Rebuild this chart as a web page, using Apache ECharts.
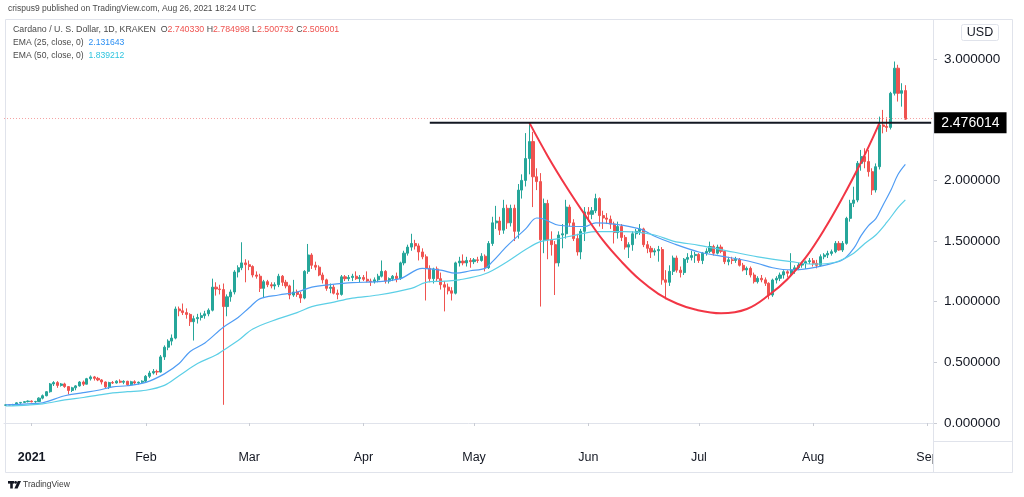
<!DOCTYPE html>
<html>
<head>
<meta charset="utf-8">
<script src="https://cdn.jsdelivr.net/npm/echarts@6/dist/echarts.min.js"></script>
<style>html,body{margin:0;padding:0;background:#fff}#c{width:1024px;height:497px}</style>
</head>
<body>
<div id="c"></div>
<script>
// ---- categories (daily, Dec 25 2020 .. Sep 2 2021) ----
const firstDay = [2020, 11, 25];
const dayCount = 252;
const monthNames = ['2021','Feb','Mar','Apr','May','Jun','Jul','Aug','Sep','Oct','Nov','Dec'];
const priceTicks = [0, 0.5, 1, 1.5, 2, 3];

// ---- candles: [open, high, low, close] ----
const dec2020 = [[0.147,0.152,0.142,0.149],[0.149,0.153,0.145,0.148],[0.148,0.158,0.145,0.150],[0.150,0.170,0.149,0.166],[0.166,0.172,0.158,0.170],[0.170,0.181,0.165,0.176],[0.176,0.186,0.170,0.181]];
const jan = [[0.181,0.186,0.170,0.175],[0.175,0.183,0.166,0.177],[0.177,0.212,0.175,0.205],[0.205,0.235,0.195,0.225],[0.225,0.262,0.220,0.258],[0.258,0.330,0.250,0.322],[0.322,0.345,0.305,0.333],[0.333,0.345,0.290,0.310],[0.310,0.330,0.300,0.322],[0.322,0.332,0.290,0.300],[0.300,0.304,0.235,0.268],[0.268,0.298,0.255,0.290],[0.290,0.312,0.270,0.306],[0.306,0.345,0.300,0.338],[0.338,0.350,0.305,0.320],[0.320,0.372,0.318,0.365],[0.365,0.392,0.350,0.380],[0.380,0.388,0.350,0.368],[0.368,0.380,0.345,0.355],[0.355,0.362,0.318,0.338],[0.338,0.342,0.285,0.298],[0.298,0.340,0.280,0.333],[0.333,0.346,0.322,0.330],[0.330,0.352,0.325,0.345],[0.345,0.360,0.328,0.336],[0.336,0.352,0.320,0.344],[0.344,0.348,0.305,0.315],[0.315,0.348,0.310,0.340],[0.340,0.352,0.318,0.330],[0.330,0.342,0.318,0.336],[0.336,0.352,0.325,0.345]];
const feb = [[0.345,0.395,0.335,0.385],[0.385,0.430,0.370,0.412],[0.412,0.445,0.400,0.425],[0.425,0.440,0.395,0.420],[0.420,0.560,0.415,0.545],[0.545,0.640,0.520,0.625],[0.625,0.690,0.600,0.675],[0.675,0.730,0.640,0.700],[0.700,0.960,0.690,0.940],[0.940,0.960,0.880,0.925],[0.925,0.985,0.890,0.910],[0.910,0.945,0.860,0.895],[0.895,0.905,0.800,0.835],[0.835,0.885,0.680,0.860],[0.860,0.900,0.820,0.870],[0.870,0.910,0.845,0.885],[0.885,0.925,0.860,0.900],[0.900,0.945,0.880,0.930],[0.930,1.190,0.920,1.120],[1.120,1.160,1.050,1.105],[1.105,1.140,1.060,1.100],[1.100,1.150,0.150,0.960],[0.960,1.060,0.880,1.040],[1.040,1.100,1.000,1.080],[1.080,1.260,1.060,1.245],[1.245,1.300,1.200,1.280],[1.280,1.490,1.260,1.320],[1.320,1.350,1.160,1.305]];
const mar = [[1.305,1.340,1.260,1.290],[1.290,1.300,1.200,1.220],[1.220,1.250,1.190,1.210],[1.210,1.230,1.080,1.110],[1.110,1.180,1.030,1.165],[1.165,1.180,1.120,1.140],[1.140,1.160,1.110,1.130],[1.130,1.160,1.100,1.140],[1.140,1.230,1.120,1.210],[1.210,1.220,1.130,1.160],[1.160,1.180,1.110,1.130],[1.130,1.140,1.020,1.055],[1.055,1.180,1.040,1.080],[1.080,1.100,1.040,1.060],[1.060,1.080,0.990,1.030],[1.030,1.260,1.020,1.250],[1.250,1.476,1.230,1.385],[1.385,1.400,1.270,1.300],[1.300,1.330,1.260,1.285],[1.285,1.300,1.210,1.220],[1.220,1.240,1.150,1.180],[1.180,1.190,1.090,1.110],[1.110,1.150,1.070,1.120],[1.120,1.140,1.060,1.070],[1.070,1.100,1.020,1.060],[1.060,1.220,1.050,1.205],[1.205,1.220,1.170,1.190],[1.190,1.220,1.170,1.200],[1.200,1.230,1.170,1.210],[1.210,1.250,1.180,1.190],[1.190,1.220,1.160,1.200]];
const apr = [[1.200,1.220,1.170,1.185],[1.185,1.250,1.160,1.170],[1.170,1.190,1.130,1.165],[1.165,1.200,1.150,1.180],[1.180,1.230,1.160,1.210],[1.210,1.340,1.200,1.250],[1.250,1.260,1.150,1.170],[1.170,1.200,1.150,1.190],[1.190,1.220,1.170,1.210],[1.210,1.240,1.160,1.190],[1.190,1.330,1.180,1.320],[1.320,1.420,1.300,1.400],[1.400,1.470,1.380,1.450],[1.450,1.560,1.420,1.480],[1.480,1.510,1.430,1.460],[1.460,1.480,1.340,1.410],[1.410,1.440,1.350,1.370],[1.370,1.390,1.010,1.275],[1.275,1.300,1.160,1.190],[1.190,1.280,1.150,1.270],[1.270,1.290,1.170,1.190],[1.190,1.240,1.100,1.140],[1.140,1.170,0.920,1.120],[1.120,1.150,1.060,1.090],[1.090,1.120,1.010,1.070],[1.070,1.330,1.060,1.320],[1.320,1.370,1.290,1.335],[1.335,1.390,1.300,1.320],[1.320,1.370,1.290,1.340],[1.340,1.360,1.280,1.330]];
const may = [[1.330,1.360,1.310,1.345],[1.345,1.370,1.320,1.340],[1.340,1.400,1.330,1.375],[1.375,1.390,1.250,1.280],[1.280,1.500,1.270,1.480],[1.480,1.700,1.460,1.650],[1.650,1.790,1.600,1.665],[1.665,1.700,1.550,1.590],[1.590,1.840,1.560,1.770],[1.770,1.800,1.600,1.650],[1.650,1.800,1.620,1.770],[1.770,1.800,1.500,1.580],[1.580,1.970,1.520,1.920],[1.920,2.050,1.850,2.000],[2.000,2.390,1.950,2.180],[2.180,2.476014,2.050,2.320],[2.320,2.400,1.780,2.030],[2.030,2.100,1.920,1.990],[1.990,2.060,0.960,1.510],[1.510,1.850,1.400,1.810],[1.810,1.840,1.350,1.510],[1.510,1.580,1.380,1.470],[1.470,1.500,1.055,1.320],[1.320,1.580,1.290,1.550],[1.550,1.640,1.440,1.560],[1.560,1.840,1.520,1.780],[1.780,1.800,1.620,1.650],[1.650,1.680,1.500,1.520],[1.520,1.560,1.380,1.410],[1.410,1.600,1.350,1.580],[1.580,1.780,1.500,1.740]];
const jun = [[1.740,1.780,1.660,1.720],[1.720,1.780,1.680,1.750],[1.750,1.890,1.730,1.850],[1.850,1.860,1.620,1.710],[1.710,1.750,1.600,1.690],[1.690,1.730,1.640,1.680],[1.680,1.710,1.600,1.640],[1.640,1.660,1.480,1.570],[1.570,1.660,1.520,1.620],[1.620,1.640,1.500,1.530],[1.530,1.550,1.430,1.450],[1.450,1.490,1.360,1.470],[1.470,1.580,1.420,1.560],[1.560,1.600,1.520,1.580],[1.580,1.640,1.550,1.600],[1.600,1.610,1.450,1.470],[1.470,1.500,1.400,1.440],[1.440,1.460,1.360,1.410],[1.410,1.440,1.380,1.420],[1.420,1.460,1.330,1.430],[1.430,1.450,1.140,1.180],[1.180,1.260,1.020,1.160],[1.160,1.300,1.130,1.250],[1.250,1.380,1.220,1.360],[1.360,1.380,1.240,1.260],[1.260,1.290,1.200,1.240],[1.240,1.360,1.220,1.350],[1.350,1.400,1.320,1.365],[1.365,1.420,1.340,1.380],[1.380,1.410,1.320,1.390]];
const jul = [[1.390,1.400,1.320,1.340],[1.340,1.410,1.310,1.400],[1.400,1.440,1.380,1.415],[1.415,1.495,1.400,1.455],[1.455,1.470,1.380,1.400],[1.400,1.470,1.390,1.450],[1.450,1.470,1.400,1.415],[1.415,1.420,1.310,1.330],[1.330,1.370,1.300,1.345],[1.345,1.370,1.310,1.340],[1.340,1.370,1.320,1.350],[1.350,1.360,1.290,1.300],[1.300,1.320,1.250,1.262],[1.262,1.290,1.220,1.275],[1.275,1.290,1.200,1.220],[1.220,1.240,1.150,1.165],[1.165,1.210,1.150,1.193],[1.193,1.220,1.160,1.180],[1.180,1.200,1.130,1.152],[1.152,1.160,1.020,1.055],[1.055,1.190,1.040,1.179],[1.179,1.210,1.150,1.193],[1.193,1.240,1.170,1.220],[1.220,1.260,1.190,1.247],[1.247,1.260,1.200,1.235],[1.235,1.400,1.220,1.262],[1.262,1.300,1.230,1.279],[1.279,1.320,1.260,1.302],[1.302,1.330,1.280,1.316],[1.316,1.340,1.270,1.330],[1.330,1.360,1.310,1.338]];
const aug = [[1.338,1.360,1.290,1.316],[1.316,1.345,1.275,1.300],[1.300,1.390,1.290,1.371],[1.371,1.400,1.350,1.385],[1.385,1.420,1.360,1.398],[1.398,1.430,1.380,1.412],[1.412,1.500,1.400,1.481],[1.481,1.500,1.420,1.426],[1.426,1.500,1.410,1.481],[1.481,1.700,1.470,1.687],[1.687,1.840,1.660,1.811],[1.811,1.948,1.780,1.838],[1.838,2.160,1.820,2.141],[2.141,2.251,2.080,2.196],[2.196,2.265,2.100,2.155],[2.155,2.250,2.031,2.072],[2.072,2.100,1.880,1.921],[1.921,2.140,1.900,2.113],[2.113,2.526,2.090,2.457],[2.457,2.581,2.388,2.445],[2.445,2.520,2.400,2.437],[2.437,2.730,2.420,2.718],[2.718,2.980,2.700,2.925],[2.925,2.953,2.650,2.718],[2.718,2.801,2.608,2.740],[2.740330,2.784998,2.500732,2.505001]];

// ---- EMA lines: [date, value] ----
const ema25Points = [['2020-12-25',0.150],['2020-12-31',0.158],['2021-01-04',0.167],['2021-01-10',0.225],['2021-01-15',0.250],['2021-01-19',0.270],['2021-01-23',0.298],['2021-01-27',0.307],['2021-02-01',0.335],['2021-02-06',0.405],['2021-02-10',0.490],['2021-02-13',0.590],['2021-02-17',0.660],['2021-02-22',0.790],['2021-02-26',0.870],['2021-03-01',0.950],['2021-03-04',1.025],['2021-03-09',1.055],['2021-03-14',1.080],['2021-03-18',1.120],['2021-03-23',1.140],['2021-03-29',1.157],['2021-04-05',1.165],['2021-04-11',1.190],['2021-04-17',1.275],['2021-04-22',1.260],['2021-04-26',1.235],['2021-04-30',1.255],['2021-05-04',1.275],['2021-05-06',1.330],['2021-05-10',1.460],['2021-05-15',1.600],['2021-05-18',1.690],['2021-05-20',1.680],['2021-05-24',1.630],['2021-05-31',1.620],['2021-06-03',1.650],['2021-06-08',1.640],['2021-06-15',1.600],['2021-06-19',1.540],['2021-06-24',1.480],['2021-07-01',1.410],['2021-07-07',1.375],['2021-07-12',1.350],['2021-07-17',1.315],['2021-07-21',1.280],['2021-07-26',1.262],['2021-07-31',1.275],['2021-08-04',1.300],['2021-08-09',1.345],['2021-08-12',1.440],['2021-08-14',1.545],['2021-08-16',1.628],['2021-08-18',1.685],['2021-08-20',1.800],['2021-08-22',1.914],['2021-08-24',2.048],['2021-08-26',2.131643]];
const ema50Points = [['2020-12-25',0.140],['2020-12-31',0.148],['2021-01-04',0.158],['2021-01-10',0.190],['2021-01-15',0.210],['2021-01-19',0.230],['2021-01-23',0.248],['2021-01-27',0.258],['2021-02-01',0.270],['2021-02-06',0.310],['2021-02-10',0.390],['2021-02-15',0.490],['2021-02-20',0.560],['2021-02-22',0.600],['2021-02-26',0.680],['2021-03-02',0.775],['2021-03-09',0.860],['2021-03-14',0.910],['2021-03-18',0.960],['2021-03-23',0.990],['2021-03-29',1.030],['2021-04-05',1.055],['2021-04-14',1.110],['2021-04-18',1.160],['2021-04-23',1.170],['2021-04-27',1.180],['2021-05-04',1.230],['2021-05-10',1.330],['2021-05-15',1.430],['2021-05-19',1.495],['2021-05-24',1.520],['2021-05-31',1.565],['2021-06-03',1.577],['2021-06-11',1.577],['2021-06-19',1.550],['2021-06-24',1.500],['2021-07-01',1.465],['2021-07-07',1.430],['2021-07-17',1.370],['2021-07-26',1.330],['2021-08-01',1.310],['2021-08-05',1.315],['2021-08-08',1.335],['2021-08-12',1.400],['2021-08-15',1.480],['2021-08-18',1.550],['2021-08-21',1.655],['2021-08-24',1.775],['2021-08-26',1.839212]];

// ---- drawn annotations ----
const cupPoints = [['2021-05-16',2.476],['2021-05-21',2.20],['2021-05-26',1.95],['2021-05-31',1.72],['2021-06-05',1.505],['2021-06-10',1.33],['2021-06-15',1.18],['2021-06-20',1.065],['2021-06-25',0.985],['2021-06-30',0.935],['2021-07-07',0.905],['2021-07-14',0.94],['2021-07-20',1.055],['2021-07-25',1.185],['2021-07-30',1.365],['2021-08-04',1.595],['2021-08-09',1.86],['2021-08-14',2.15],['2021-08-17',2.34],['2021-08-19',2.476]];
const resistanceLevel = 2.476014;
const resistanceStart = '2021-04-19';
const lastClose = 2.505001;

// ---------------------------------------------------------------
const dates = [];
for (let i = 0; i < dayCount; i++) {
  const d = new Date(Date.UTC(firstDay[0], firstDay[1], firstDay[2] + i));
  dates.push(d.toISOString().slice(0, 10));
}
const rows = [].concat(dec2020, jan, feb, mar, apr, may, jun, jul, aug);
const candleData = dates.map((d, i) => i < rows.length ? [rows[i][0], rows[i][3], rows[i][2], rows[i][1]] : '-');
function align(points) {
  const arr = dates.map(() => null);
  points.forEach(([d, v]) => { const k = dates.indexOf(d); if (k >= 0) arr[k] = v; });
  return arr;
}
const isMonthStart = (idx, val) => val.slice(8, 10) === '01';
const resistanceData = align([[resistanceStart, resistanceLevel], [dates[dates.length - 1], resistanceLevel]]);

const font = 'Liberation Sans, Arial, sans-serif';
const chart = echarts.init(document.getElementById('c'), null, {renderer: 'canvas'});
chart.setOption({
  backgroundColor: '#ffffff',
  animation: false,
  grid: {left: 4, right: 91, top: 22.7, bottom: 55.8, containLabel: false},
  xAxis: {
    type: 'category', data: dates, boundaryGap: true,
    axisLine: {show: true, lineStyle: {color: '#e0e3eb', width: 1}},
    axisTick: {show: true, interval: isMonthStart, alignWithLabel: true, length: 3, lineStyle: {color: '#c9ccd4'}},
    axisLabel: {
      interval: isMonthStart,
      margin: 10, color: '#131722', fontSize: 12.5, fontFamily: font,
      formatter: v => { const m = +v.slice(5, 7) - 1; return m === 0 ? '{y|' + monthNames[0] + '}' : monthNames[m]; },
      rich: {y: {fontWeight: 'bold', fontSize: 12.5, fontFamily: font, color: '#131722'}}
    },
    splitLine: {show: false}
  },
  yAxis: {
    type: 'value', position: 'right', min: -0.15, max: 3.3, scale: false,
    axisLine: {show: false},
    axisTick: {show: true, customValues: priceTicks, length: 4, lineStyle: {color: '#c9ccd4'}},
    axisLabel: {customValues: priceTicks, margin: 11, color: '#131722', fontSize: 13.5, fontFamily: font, formatter: v => v.toFixed(6)},
    splitLine: {show: false}
  },
  series: [
    {
      type: 'candlestick', name: 'ADAUSD', data: candleData, barWidth: '70%', z: 2,
      itemStyle: {color: '#26a69a', color0: '#ef5350', borderColor: '#26a69a', borderColor0: '#ef5350', borderWidth: 1},
      markLine: {
        silent: true, symbol: ['none', 'none'], animation: false,
        lineStyle: {color: '#f5a3a3', type: [1, 2], width: 1},
        label: {show: false},
        data: [{yAxis: lastClose}]
      }
    },
    {type: 'line', name: 'EMA25', data: align(ema25Points), connectNulls: true, smooth: 0.35, showSymbol: false, z: 3,
     lineStyle: {color: '#4f9cf4', width: 1.2}},
    {type: 'line', name: 'EMA50', data: align(ema50Points), connectNulls: true, smooth: 0.35, showSymbol: false, z: 3,
     lineStyle: {color: '#5ccfe6', width: 1.2}},
    {type: 'line', name: 'cup', data: align(cupPoints), connectNulls: true, smooth: 0.4, showSymbol: false, z: 4,
     lineStyle: {color: '#f23645', width: 2}},
    {type: 'line', name: 'resistance', data: resistanceData, connectNulls: true, showSymbol: false, z: 5, clip: false,
     lineStyle: {color: '#131722', width: 2},
     endLabel: {show: true, formatter: () => resistanceLevel.toFixed(6), distance: 3, color: '#ffffff', backgroundColor: '#000000',
       padding: [4, 7, 3, 7], fontSize: 14, fontFamily: font}}
  ],
  graphic: [
    {type: 'rect', z: 0, silent: true, shape: {x: 5.5, y: 19.5, width: 1007, height: 453}, style: {fill: 'none', stroke: '#e0e3eb', lineWidth: 1}},
    {type: 'line', z: 1, silent: true, shape: {x1: 933.5, y1: 20, x2: 933.5, y2: 472}, style: {stroke: '#e0e3eb', lineWidth: 1}},
    {type: 'line', z: 1, silent: true, shape: {x1: 933.5, y1: 441.5, x2: 1012, y2: 441.5}, style: {stroke: '#e0e3eb', lineWidth: 1}},
    {type: 'rect', z: 50, silent: true, shape: {x: 934, y: 442, width: 78, height: 30}, style: {fill: '#ffffff'}},
    {type: 'text', z: 60, left: 8, top: 4, silent: true, style: {text: 'crispus9 published on TradingView.com, Aug 26, 2021 18:24 UTC', font: '8.5px ' + font, fill: '#4a4a4a'}},
    {type: 'text', z: 60, left: 13, top: 25, silent: true, style: {
      text: '{l|Cardano / U. S. Dollar, 1D, KRAKEN  O}{v|2.740330}{l| H}{v|2.784998}{l| L}{v|2.500732}{l| C}{v|2.505001}',
      rich: {l: {font: '8.8px ' + font, fill: '#4a4a4a'}, v: {font: '8.8px ' + font, fill: '#ef5350'}}}},
    {type: 'text', z: 60, left: 13, top: 38, silent: true, style: {
      text: '{l|EMA (25, close, 0)  }{v|2.131643}',
      rich: {l: {font: '8.6px ' + font, fill: '#4a4a4a'}, v: {font: '8.6px ' + font, fill: '#2a8ef2'}}}},
    {type: 'text', z: 60, left: 13, top: 51, silent: true, style: {
      text: '{l|EMA (50, close, 0)  }{v|1.839212}',
      rich: {l: {font: '8.6px ' + font, fill: '#4a4a4a'}, v: {font: '8.6px ' + font, fill: '#2fc4de'}}}},
    {type: 'rect', z: 60, silent: true, shape: {x: 961.5, y: 24.5, width: 37, height: 16, r: 2}, style: {fill: '#ffffff', stroke: '#e0e3eb', lineWidth: 1}},
    {type: 'text', z: 61, silent: true, x: 980, y: 32.5, style: {text: 'USD', font: '12.5px ' + font, fill: '#131722', align: 'center', verticalAlign: 'middle'}},
    // TradingView logo
    {type: 'rect', z: 60, silent: true, shape: {x: 8, y: 481, width: 6, height: 2.6}, style: {fill: '#131722'}},
    {type: 'rect', z: 60, silent: true, shape: {x: 10.2, y: 481, width: 2.6, height: 7.5}, style: {fill: '#131722'}},
    {type: 'circle', z: 60, silent: true, shape: {cx: 15.6, cy: 482.4, r: 1.4}, style: {fill: '#131722'}},
    {type: 'polygon', z: 60, silent: true, shape: {points: [[17.8, 481], [21, 481], [17.6, 488.5], [14.4, 488.5]]}, style: {fill: '#131722'}},
    {type: 'text', z: 60, silent: true, left: 23, top: 480.5, style: {text: 'TradingView', font: '8.5px ' + font, fill: '#3a3a3a'}}
  ]
});
</script>
</body>
</html>
